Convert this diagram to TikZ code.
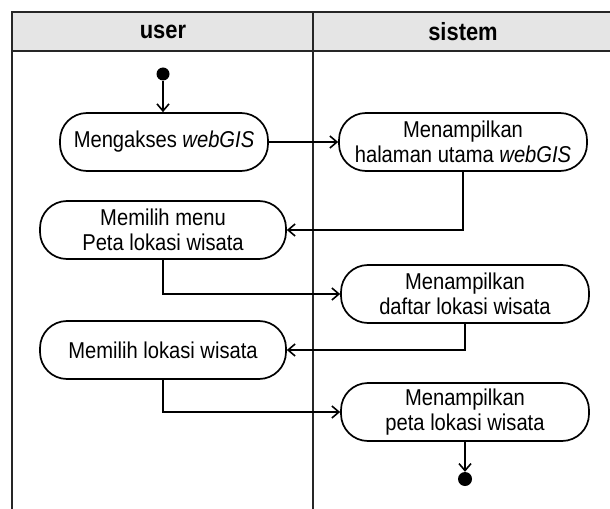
\documentclass[tikz,border=0pt]{standalone}
\usepackage{fontspec}
\setmainfont{Liberation Sans}[FakeStretch=0.88]
\usetikzlibrary{arrows.meta}
\tikzset{
  act/.style={draw=black, line width=1.7bp, rounded corners=27bp, fill=white,
    align=center, inner sep=0pt, font=\fontsize{23}{25}\selectfont},
  flow/.style={line width=1.8bp, -{Straight Barb[length=7bp,width=12bp,line width=1.6bp]}},
  lane/.style={line width=2bp, draw=black!85},
  dot/.style={circle, fill=black, inner sep=0pt, minimum size=13bp},
  hdr/.style={font=\fontsize{25}{26}\selectfont\bfseries}
}
\begin{document}
\begin{tikzpicture}[x=1bp,y=-1bp]
\useasboundingbox (0,0) rectangle (610,509);
\fill[white] (0,0) rectangle (610,509);
% header band
\fill[black!10] (12,12) rectangle (612,51);
\draw[lane] (12,511) -- (12,12) -- (612,12);
\draw[lane] (12,51) -- (612,51);
\draw[lane] (313,12) -- (313,511);
\node[hdr] (hu) at (163,32) {user};
\node[hdr] (hs) at (463,32) {sistem};
% nodes
\node[dot] (start) at (163,74) {};
\node[act, minimum width=208bp, minimum height=58bp] (n1) at (164,142) {Mengakses \textit{webGIS}};
\node[act, minimum width=248bp, minimum height=58bp] (n2) at (463,142) {Menampilkan\\halaman utama \textit{webGIS}};
\node[act, minimum width=246bp, minimum height=58bp] (n3) at (163,230) {Memilih menu\\Peta lokasi wisata};
\node[act, minimum width=248bp, minimum height=58bp] (n4) at (465,294) {Menampilkan\\daftar lokasi wisata};
\node[act, minimum width=246bp, minimum height=58bp] (n5) at (163,350) {Memilih lokasi wisata};
\node[act, minimum width=248bp, minimum height=58bp] (n6) at (465,412) {Menampilkan\\peta lokasi wisata};
\node[dot, minimum size=14bp] (end) at (465,479) {};
% connectors
\draw[flow] (start) -- (n1.north -| start);
\draw[flow] (n1.east) -- (n1.east -| n2.west);
\draw[flow] (n2.south) |- (n3.east);
\draw[flow] (n3.south) |- (n4.west);
\draw[flow] (n4.south) |- (n5.east);
\draw[flow] (n5.south) |- (n6.west);
\draw[flow] (n6.south) -- (end.north);
\end{tikzpicture}
\end{document}
